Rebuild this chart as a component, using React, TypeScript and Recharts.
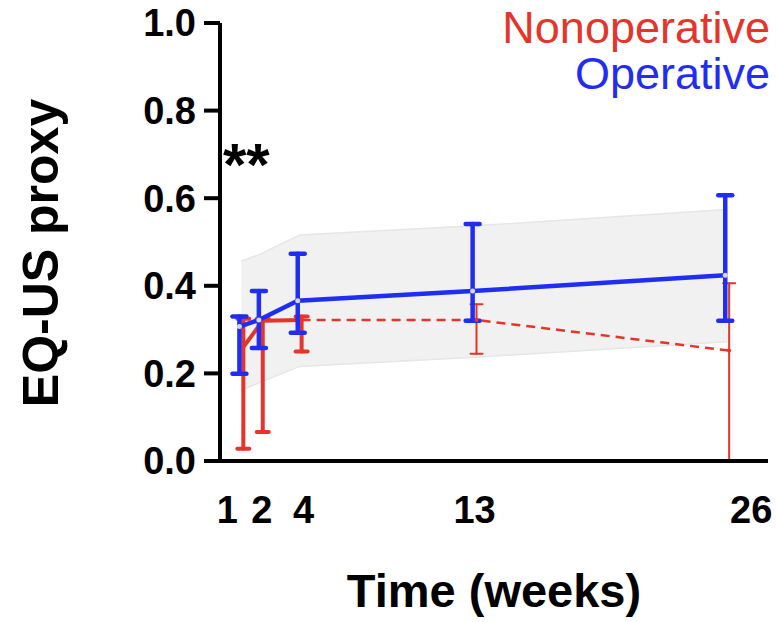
import { Area, ComposedChart, ErrorBar, Label, Legend, Line, XAxis, YAxis } from "recharts";

const weeks = [1, 2, 4, 13, 26];
const yTicks = [0, 0.2, 0.4, 0.6, 0.8, 1.0];

// Operative (blue)
const opMean = [0.307, 0.322, 0.366, 0.388, 0.424];
const opLow = [0.199, 0.258, 0.293, 0.32, 0.32];
const opHigh = [0.33, 0.388, 0.473, 0.541, 0.607];

// Nonoperative (red)
const nonMean = [0.26, 0.32, 0.322, 0.322, 0.252];
const nonLow = [0.028, 0.066, 0.25, 0.245, 0];
const nonHigh = [0.325, 0.325, 0.33, 0.358, 0.406];

// grey reference band
const bandLow = [0.162, 0.18, 0.216, 0.237, 0.272];
const bandHigh = [0.456, 0.473, 0.516, 0.537, 0.574];

const seriesNames = ["Nonoperative", "Operative"];
const RED = "#e5342b";
const BLUE = "#1f2ef2";
const FONT = "'Liberation Sans', Arial, Helvetica, sans-serif";

// small horizontal dodge so the two groups' bars don't sit on top of each other
const DODGE = 0.1;

const toRows = (mean: number[], low: number[], high: number[], shift: number) =>
  weeks.map((w, i) => ({
    x: w + shift,
    y: mean[i],
    err: [mean[i] - low[i], high[i] - mean[i]],
  }));

const opRows = toRows(opMean, opLow, opHigh, -DODGE);
const nonRows = toRows(nonMean, nonLow, nonHigh, DODGE);
const nonEarly = nonRows.slice(0, 3);
const nonLate = nonRows.slice(2);
const nonLateBars = nonRows.slice(3);
const bandRows = weeks.map((w, i) => ({ x: w, range: [bandLow[i], bandHigh[i]] }));

const tickNudge: Record<number, number> = { 1: -14, 2: 1, 4: 4, 13: 0, 26: 24 };

function WeekTick(props: any) {
  const { x, y, payload } = props;
  return (
    <text
      x={x + (tickNudge[payload.value] ?? 0)}
      y={y}
      dy="0.71em"
      textAnchor="middle"
      fontSize={38}
      fontWeight={700}
      fill="#000"
    >
      {payload.value}
    </text>
  );
}

function LegendText() {
  const colors = [RED, BLUE];
  return (
    <div style={{ textAlign: "right", fontSize: 45, lineHeight: "46px", fontFamily: FONT }}>
      {seriesNames.map((n, i) => (
        <div key={n} style={{ color: colors[i] }}>
          {n}
        </div>
      ))}
    </div>
  );
}

export default function App() {
  return (
    <div style={{ position: "absolute", left: 0, top: 0, width: 776, height: 622, background: "#fff", fontFamily: FONT }}>
      <ComposedChart width={776} height={622} margin={{ top: 23, right: 8, bottom: 0, left: 0 }}>
        <XAxis
          type="number"
          dataKey="x"
          domain={[-0.1, 28.1]}
          ticks={weeks}
          interval={0}
          tick={<WeekTick />}
          tickLine={false}
          tickSize={6}
          tickMargin={29}
          axisLine={{ stroke: "#000", strokeWidth: 4 }}
          height={161}
          allowDataOverflow
        >
          <Label
            value="Time (weeks)"
            position="insideBottom"
            offset={15}
            style={{ fontSize: 47, fontWeight: 700, fill: "#000" }}
          />
        </XAxis>
        <YAxis
          type="number"
          domain={[0, 1]}
          ticks={yTicks}
          interval={0}
          width={220}
          tickFormatter={(v: number) => v.toFixed(1)}
          tick={{ fontSize: 38, fontWeight: 700, fill: "#000" }}
          tickSize={16}
          tickMargin={8}
          tickLine={{ stroke: "#000", strokeWidth: 4 }}
          axisLine={{ stroke: "#000", strokeWidth: 4 }}
        >
          <Label
            content={({ viewBox }: any) => {
              const cx = viewBox.x + 58;
              const cy = viewBox.y + viewBox.height / 2 + 11;
              return (
                <text
                  x={cx}
                  y={cy}
                  transform={`rotate(-90 ${cx} ${cy})`}
                  textAnchor="middle"
                  fontSize={50}
                  fontWeight={700}
                  fill="#000"
                >
                  EQ-US proxy
                </text>
              );
            }}
          />
        </YAxis>
        <Legend
          layout="vertical"
          align="center"
          verticalAlign="middle"
          content={<LegendText />}
          wrapperStyle={{ top: 5, right: 6, left: "auto", width: "auto" }}
        />
        <Area
          data={bandRows}
          dataKey="range"
          type="linear"
          fill="#f1f1f1"
          fillOpacity={1}
          stroke="#e6e6e6"
          strokeWidth={1.5}
          isAnimationActive={false}
          legendType="none"
        />
        <Line
          data={nonEarly}
          dataKey="y"
          type="linear"
          stroke={RED}
          strokeWidth={4}
          dot={false}
          isAnimationActive={false}
        >
          <ErrorBar dataKey="err" direction="y" width={6} stroke={RED} strokeWidth={4} strokeLinecap="round" />
        </Line>
        <Line
          data={nonLate}
          dataKey="y"
          type="linear"
          stroke={RED}
          strokeWidth={2.5}
          strokeDasharray="9 6"
          dot={{ r: 2, fill: RED, stroke: "none" }}
          isAnimationActive={false}
        />
        <Line
          data={nonLateBars}
          dataKey="y"
          stroke="none"
          dot={false}
          isAnimationActive={false}
        >
          <ErrorBar dataKey="err" direction="y" width={6} stroke={RED} strokeWidth={2} strokeLinecap="round" />
        </Line>
        <Line
          data={opRows}
          dataKey="y"
          type="linear"
          stroke={BLUE}
          strokeWidth={4.5}
          dot={{ r: 2.5, fill: "#d6d6d6", stroke: "none" }}
          isAnimationActive={false}
        >
          <ErrorBar dataKey="err" direction="y" width={7} stroke={BLUE} strokeWidth={4.5} strokeLinecap="round" />
        </Line>
      </ComposedChart>
      <div
        style={{
          position: "absolute",
          left: 223,
          top: 135,
          fontSize: 60,
          lineHeight: "60px",
          fontWeight: 700,
          color: "#000",
        }}
      >
        **
      </div>
    </div>
  );
}
